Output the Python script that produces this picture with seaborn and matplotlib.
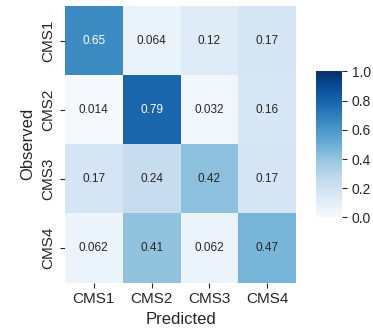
import numpy as np
import matplotlib
matplotlib.use("Agg")
import matplotlib.pyplot as plt
import seaborn as sns

labels = ["CMS1", "CMS2", "CMS3", "CMS4"]
row_cms1 = [0.65, 0.064, 0.12, 0.17]
row_cms2 = [0.014, 0.79, 0.032, 0.16]
row_cms3 = [0.17, 0.24, 0.42, 0.17]
row_cms4 = [0.062, 0.41, 0.062, 0.47]

cm = np.array([row_cms1, row_cms2, row_cms3, row_cms4])

sns.set_style("ticks")
plt.rcParams["font.family"] = ["Liberation Sans", "DejaVu Sans"]

fig = plt.figure(figsize=(3.73, 3.32), dpi=100)
ax = fig.add_axes([0.174, 0.149, 0.62, 0.833])
cax = fig.add_axes([0.847, 0.345, 0.07, 0.44])
sns.heatmap(cm, annot=True, cmap="Blues", vmin=0, vmax=1, ax=ax, cbar_ax=cax,
            xticklabels=labels, yticklabels=labels,
            annot_kws={"size": 8.5})
cax.tick_params(labelsize=10)
ax.tick_params(labelsize=11)
ax.set_xlabel("Predicted", fontsize=12)
ax.set_ylabel("Observed", fontsize=12)
plt.savefig("out.png", dpi=100)
